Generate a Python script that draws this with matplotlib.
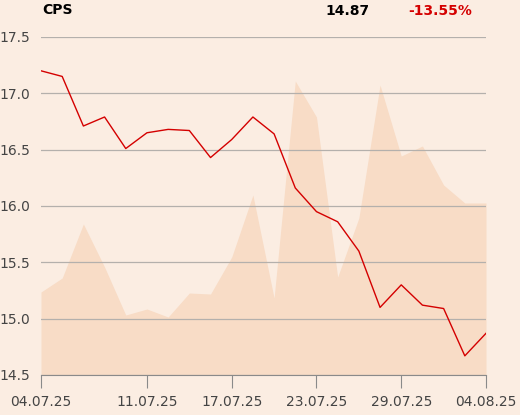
import matplotlib
matplotlib.use("Agg")
import matplotlib.pyplot as plt

dates = ["04.07.25", "07.07.25", "08.07.25", "09.07.25", "10.07.25", "11.07.25",
         "14.07.25", "15.07.25", "16.07.25", "17.07.25", "18.07.25", "21.07.25",
         "22.07.25", "23.07.25", "24.07.25", "25.07.25", "28.07.25", "29.07.25",
         "30.07.25", "31.07.25", "01.08.25", "04.08.25"]
price = [17.20, 17.15, 16.71, 16.79, 16.51, 16.65, 16.68, 16.67, 16.43, 16.59, 16.79,
         16.64, 16.16, 15.95, 15.86, 15.60, 15.10, 15.30, 15.12, 15.09, 14.67, 14.87]
volume = [83, 97, 151, 108, 60, 66, 58, 82, 81, 118, 180, 77,
          294, 258, 98, 157, 290, 219, 229, 190, 172, 172]
tick_labels = ["04.07.25", "11.07.25", "17.07.25", "23.07.25", "29.07.25", "04.08.25"]

bg = "#fbede2"
x = list(range(len(dates)))

fig = plt.figure(figsize=(5.2, 4.15), dpi=100, facecolor=bg)
ax = fig.add_axes([41 / 520, 1 - 375 / 415, 445 / 520, 338 / 415])
ax.set_facecolor(bg)

# volume as filled area on hidden second axis
ax2 = ax.twinx()
ax2.fill_between(x, volume, 0, color="#f8dcc6", lw=0)
ax2.set_ylim(0, 338)
ax2.axis("off")
ax.set_zorder(ax2.get_zorder() + 1)
ax.patch.set_visible(False)
fig.patch.set_facecolor(bg)

ax.plot(x, price, color="#d40000", lw=1.0)
ax.set_xlim(0, len(dates) - 1)
ax.set_ylim(14.5, 17.5)
ax.set_yticks([14.5, 15.0, 15.5, 16.0, 16.5, 17.0, 17.5])
ax.set_yticklabels([f"{v:.1f}" for v in ax.get_yticks()])
ax.grid(axis="y", color="#b4b0ac", lw=0.9)
ax.set_axisbelow(True)

ax.set_xticks([dates.index(d) for d in tick_labels])
ax.set_xticklabels(tick_labels)
for s in ["top", "right", "left"]:
    ax.spines[s].set_visible(False)
ax.spines["bottom"].set_color("#8a8a8a")
ax.tick_params(axis="x", length=9.5, color="#8a8a8a", labelsize=10, labelcolor="#444444", pad=5)
ax.tick_params(axis="y", length=0, labelsize=10, labelcolor="#444444", pad=8)

fig.text(42 / 520, 1 - 10 / 415, "CPS", fontsize=10, fontweight="bold", va="center")
fig.text(370 / 520, 1 - 11 / 415, "14.87", fontsize=10, fontweight="bold", va="center", ha="right")
fig.text(472 / 520, 1 - 11 / 415, "-13.55%", fontsize=10, fontweight="bold", va="center",
         ha="right", color="#d40000")

fig.savefig("out.png", dpi=100, facecolor=bg)
